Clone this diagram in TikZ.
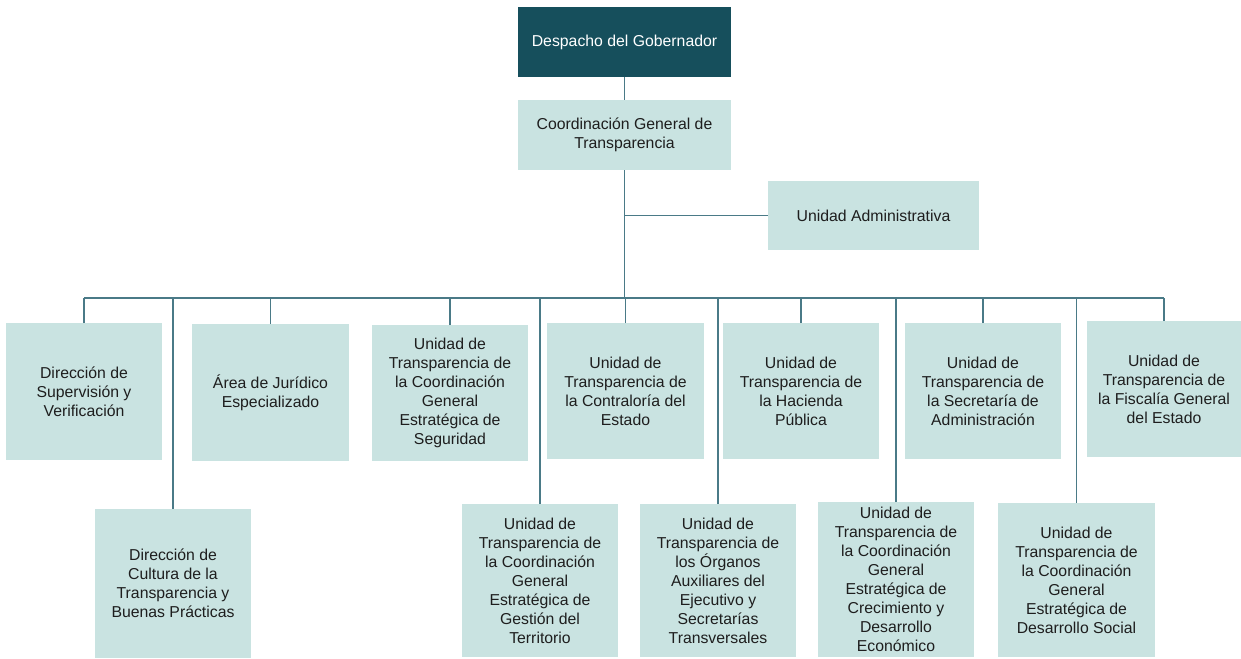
\documentclass[tikz,border=0pt]{standalone}
\usepackage{fontspec}
\setmainfont{Liberation Sans}
\definecolor{darkbox}{HTML}{164F5C}
\definecolor{lightbox}{HTML}{C9E3E1}
\definecolor{lnk}{HTML}{4A7A87}
\definecolor{txt}{HTML}{1E1E1E}
\begin{document}
\begin{tikzpicture}[x=1pt,y=-1pt,
  box/.style={fill=lightbox, draw=none, inner sep=0pt, outer sep=0pt, align=center,
    font=\fontsize{15.8}{19}\selectfont, text=txt},
  topbox/.style={box, fill=darkbox, text=white},
  link/.style={draw=lnk, line width=1.5pt}]
\useasboundingbox (0,0) rectangle (1241,658);

\node[topbox, minimum width=213, minimum height=70] (gob) at (624.5,42) {Despacho del Gobernador};
\node[box, minimum width=213, minimum height=70] (cg) at (624.5,135) {Coordinación General de\\Transparencia};
\node[box, minimum width=211, minimum height=69] (ua) at (873.5,215.5) {Unidad Administrativa};

\node[box, minimum width=156, minimum height=137] (b1) at (84,391.5) {Dirección de\\Supervisión y\\Verificación};
\node[box, minimum width=157, minimum height=137] (b2) at (270.5,392.5) {Área de Jurídico\\Especializado};
\node[box, minimum width=156, minimum height=136] (b3) at (450,393) {Unidad de\\Transparencia de\\la Coordinación\\General\\Estratégica de\\Seguridad};
\node[box, minimum width=157, minimum height=136] (b4) at (625.5,391) {Unidad de\\Transparencia de\\la Contraloría del\\Estado};
\node[box, minimum width=156, minimum height=136] (b5) at (801,391) {Unidad de\\Transparencia de\\la Hacienda\\Pública};
\node[box, minimum width=156, minimum height=136] (b6) at (983,391) {Unidad de\\Transparencia de\\la Secretaría de\\Administración};
\node[box, minimum width=154, minimum height=136] (b7) at (1164,389) {Unidad de\\Transparencia de\\la Fiscalía General\\del Estado};

\node[box, minimum width=156, minimum height=149] (c1) at (173,583.5) {Dirección de\\Cultura de la\\Transparencia y\\Buenas Prácticas};
\node[box, minimum width=156, minimum height=153] (c2) at (540,580.5) {Unidad de\\Transparencia de\\la Coordinación\\General\\Estratégica de\\Gestión del\\Territorio};
\node[box, minimum width=156, minimum height=153] (c3) at (718,580.5) {Unidad de\\Transparencia de\\los Órganos\\Auxiliares del\\Ejecutivo y\\Secretarías\\Transversales};
\node[box, minimum width=156, minimum height=155] (c4) at (896,579.5) {Unidad de\\Transparencia de\\la Coordinación\\General\\Estratégica de\\Crecimiento y\\Desarrollo\\Económico};
\node[box, minimum width=157, minimum height=154] (c5) at (1076.5,580) {Unidad de\\Transparencia de\\la Coordinación\\General\\Estratégica de\\Desarrollo Social};

\coordinate (bus) at (0,298);
\draw[link] (gob.south) -- (cg.north);
\draw[link] (cg.south) -- (cg.south |- bus);
\draw[link] (ua.west) -- (ua.west -| cg.south);
\draw[link] (b1.north |- bus) -- (b7.north |- bus);
\foreach \n in {b1,b2,b3,b4,b5,b6,b7,c1,c2,c3,c4,c5}
  \draw[link] (\n.north) -- (\n.north |- bus);
\end{tikzpicture}
\end{document}
